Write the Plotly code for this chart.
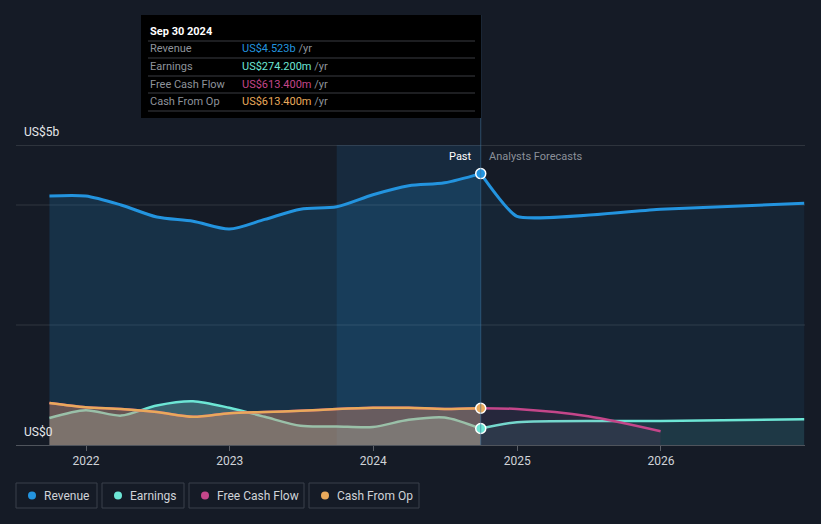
import plotly.graph_objects as go

# ---- data (values in US$ billions) ----
past_dates = ["2021-09-30", "2021-12-31", "2022-03-31", "2022-06-30", "2022-09-30",
              "2022-12-31", "2023-03-31", "2023-06-30", "2023-09-30", "2023-12-31",
              "2024-03-31", "2024-06-30", "2024-09-30"]
revenue_past = [4.15, 4.15, 4.00, 3.80, 3.73, 3.60, 3.76, 3.93, 3.97, 4.17, 4.32, 4.37, 4.523]
earnings_past = [0.45, 0.58, 0.49, 0.66, 0.73, 0.62, 0.47, 0.32, 0.31, 0.30, 0.42, 0.46, 0.2742]
cfo_past = [0.70, 0.63, 0.60, 0.55, 0.47, 0.53, 0.55, 0.57, 0.60, 0.62, 0.62, 0.60, 0.6134]
fcf_past = cfo_past

fc_dates = ["2024-09-30", "2024-12-31", "2025-12-31", "2026-12-31"]
revenue_fc = [4.523, 3.81, 3.93, 4.03]
earnings_fc = [0.2742, 0.38, 0.40, 0.43]
fcf_fc_dates = ["2024-09-30", "2024-12-31", "2025-06-30", "2025-12-31"]
fcf_fc = [0.6134, 0.60, 0.48, 0.23]

tick_years = ["2022-01-01", "2023-01-01", "2024-01-01", "2025-01-01", "2026-01-01"]
tick_labels = ["2022", "2023", "2024", "2025", "2026"]

C_REV = "#2394df"
C_EARN = "#6de6d5"
C_FCF = "#c4468a"
C_CFO = "#e9a95b"
BG = "#151b26"

def B(v):
    return [x * 1e9 for x in v]

fig = go.Figure()
line_kw = dict(shape="spline", smoothing=0.8)

# revenue fills
fig.add_trace(go.Scatter(x=past_dates, y=B(revenue_past), mode="lines", fill="tozeroy",
                         fillcolor="rgba(35,148,223,0.18)", line=dict(color=C_REV, width=3, **line_kw),
                         hoverinfo="skip"))
fig.add_trace(go.Scatter(x=fc_dates, y=B(revenue_fc), mode="lines", fill="tozeroy",
                         fillcolor="rgba(35,148,223,0.085)",
                         line=dict(color=C_REV, width=3, shape="spline", smoothing=0.45),
                         hoverinfo="skip"))
# earnings
fig.add_trace(go.Scatter(x=past_dates, y=B(earnings_past), mode="lines", fill="tozeroy",
                         fillcolor="rgba(150,225,215,0.28)", line=dict(color=C_EARN, width=2.5, **line_kw),
                         hoverinfo="skip"))
fig.add_trace(go.Scatter(x=fc_dates, y=B(earnings_fc), mode="lines", fill="tozeroy",
                         fillcolor="rgba(109,230,213,0.10)", line=dict(color=C_EARN, width=2.5, **line_kw),
                         hoverinfo="skip"))
# free cash flow
fig.add_trace(go.Scatter(x=past_dates, y=B(fcf_past), mode="lines", fill="tozeroy",
                         fillcolor="rgba(196,70,138,0.18)", line=dict(color=C_FCF, width=2.5, **line_kw),
                         hoverinfo="skip"))
fig.add_trace(go.Scatter(x=fcf_fc_dates, y=B(fcf_fc), mode="lines", fill="tozeroy",
                         fillcolor="rgba(196,70,138,0.09)", line=dict(color=C_FCF, width=2.5, **line_kw),
                         hoverinfo="skip"))
# cash from op
fig.add_trace(go.Scatter(x=past_dates, y=B(cfo_past), mode="lines", fill="tozeroy",
                         fillcolor="rgba(233,169,91,0.28)", line=dict(color=C_CFO, width=2.5, **line_kw),
                         hoverinfo="skip"))

# markers at last reported point
last = past_dates[-1]
fig.add_trace(go.Scatter(x=[last, last, last],
                         y=B([revenue_past[-1], earnings_past[-1], cfo_past[-1]]),
                         mode="markers",
                         marker=dict(size=10, color=[C_REV, C_EARN, C_CFO], line=dict(color="white", width=1.5)),
                         hoverinfo="skip"))

W, H = 821, 524
L, R, T, Bm = 16, 16, 145, 79
PW, PH = W - L - R, H - T - Bm

def px(x):
    return (x - L) / PW

def py(y):
    return (H - Bm - y) / PH

shapes = []
annotations = []

# highlight band for last year + hover line
shapes.append(dict(type="rect", xref="x", yref="paper", x0="2023-09-30", x1="2024-09-30", y0=0, y1=1,
                   fillcolor="rgba(35,148,223,0.13)", line=dict(width=0), layer="below"))
shapes.append(dict(type="line", xref="x", yref="paper", x0="2024-09-30", x1="2024-09-30", y0=0, y1=py(15),
                   line=dict(color="rgba(60,110,150,0.6)", width=1)))

# gridlines
for gv in [2, 4, 5]:
    shapes.append(dict(type="line", xref="paper", yref="y", x0=0, x1=1, y0=gv * 1e9, y1=gv * 1e9,
                       line=dict(color="rgba(255,255,255,0.22)" if gv == 5 else "rgba(255,255,255,0.12)", width=1),
                       layer="below"))

# y labels
annotations.append(dict(xref="paper", yref="paper", x=px(22), y=py(132), text="US$5b", showarrow=False,
                        xanchor="left", yanchor="middle", font=dict(size=12, color="#e6e8eb")))
annotations.append(dict(xref="paper", yref="paper", x=px(22), y=py(432), text="US$0", showarrow=False,
                        xanchor="left", yanchor="middle", font=dict(size=12, color="#e6e8eb")))

# Past / Analysts Forecasts
annotations.append(dict(xref="paper", yref="paper", x=px(474), y=py(156), text="Past", showarrow=False,
                        xanchor="right", yanchor="middle", font=dict(size=11, color="#ffffff")))
annotations.append(dict(xref="paper", yref="paper", x=px(487), y=py(156), text="Analysts Forecasts",
                        showarrow=False, xanchor="left", yanchor="middle", font=dict(size=11, color="#8b9099")))

# tooltip box
shapes.append(dict(type="rect", xref="paper", yref="paper", x0=px(141), x1=px(481), y0=py(118), y1=py(15),
                   fillcolor="#000000", line=dict(width=0)))
for ly in [41, 58, 76, 93, 111]:
    shapes.append(dict(type="line", xref="paper", yref="paper", x0=px(148), x1=px(475), y0=py(ly), y1=py(ly),
                       line=dict(color="#3a3d42", width=1)))
annotations.append(dict(xref="paper", yref="paper", x=px(148), y=py(31), text="<b>Sep 30 2024</b>",
                        showarrow=False, xanchor="left", yanchor="middle", font=dict(size=11, color="#ffffff")))
rows = [("Revenue", "US$4.523b", C_REV, 49), ("Earnings", "US$274.200m", C_EARN, 66.5),
        ("Free Cash Flow", "US$613.400m", C_FCF, 84), ("Cash From Op", "US$613.400m", C_CFO, 101.5)]
for lab, val, col, yy in rows:
    annotations.append(dict(xref="paper", yref="paper", x=px(148), y=py(yy), text=lab, showarrow=False,
                            xanchor="left", yanchor="middle", font=dict(size=11, color="#8e939b")))
    annotations.append(dict(xref="paper", yref="paper", x=px(240), y=py(yy),
                            text=f"<span style='color:{col}'>{val}</span> /yr", showarrow=False,
                            xanchor="left", yanchor="middle", font=dict(size=11, color="#8e939b")))

# custom legend
legend_items = [("Revenue", C_REV, 16, 97), ("Earnings", C_EARN, 102, 184),
                ("Free Cash Flow", C_FCF, 189, 304), ("Cash From Op", C_CFO, 309, 419)]
for name, col, x0, x1 in legend_items:
    shapes.append(dict(type="rect", xref="paper", yref="paper", x0=px(x0), x1=px(x1), y0=py(508), y1=py(483),
                       fillcolor="rgba(0,0,0,0)", line=dict(color="#3b414b", width=1)))
    shapes.append(dict(type="circle", xref="paper", yref="paper", x0=px(x0 + 12), x1=px(x0 + 20),
                       y0=py(499.5), y1=py(491.5), fillcolor=col, line=dict(width=0)))
    annotations.append(dict(xref="paper", yref="paper", x=px(x0 + 26), y=py(495.5), text=name, showarrow=False,
                            xanchor="left", yanchor="middle", font=dict(size=12, color="#d0d3d8")))

fig.update_layout(
    width=W, height=H, margin=dict(l=L, r=R, t=T, b=Bm),
    paper_bgcolor=BG, plot_bgcolor=BG, showlegend=False,
    font=dict(family="Roboto, Open Sans, sans-serif"),
    shapes=shapes, annotations=annotations,
    xaxis=dict(range=["2021-07-07", "2027-01-02"], tickvals=tick_years, ticktext=tick_labels,
               showgrid=False, zeroline=False, showline=True, linecolor="rgba(255,255,255,0.25)",
               ticks="outside", ticklen=5, tickcolor="rgba(255,255,255,0.3)",
               tickfont=dict(size=12, color="#d0d3d8")),
    yaxis=dict(range=[0, 5e9], showgrid=False, zeroline=False, showticklabels=False, fixedrange=True),
)

fig.write_html("out.html", config={"displayModeBar": False},
               post_script="document.body.style.margin='0';document.body.style.background='#151b26';")
